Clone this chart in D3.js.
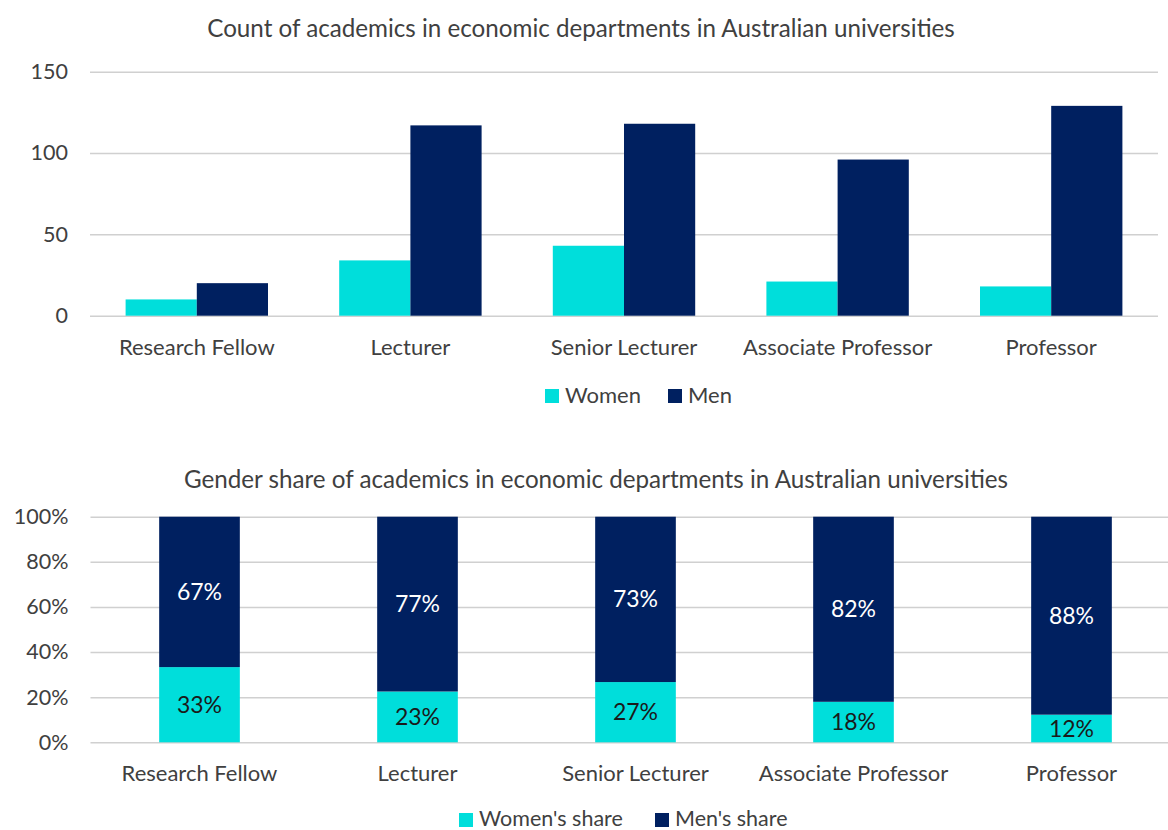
<!DOCTYPE html>
<html>
<head>
<meta charset="utf-8">
<script src="https://cdn.jsdelivr.net/npm/d3@7"></script>
<style>
  html, body { margin: 0; padding: 0; background: #fff; }
  svg { display: block; font-family: Lato, "Open Sans", sans-serif; }
</style>
</head>
<body>
<svg id="chart" width="1168" height="830"></svg>
<script>
const categories = ['Research Fellow', 'Lecturer', 'Senior Lecturer', 'Associate Professor', 'Professor'];
const women = [10, 34, 43, 21, 18];
const men = [20, 117, 118, 96, 129];
const countTicks = [0, 50, 100, 150];
const shareTicks = [0, 0.2, 0.4, 0.6, 0.8, 1];

const CYAN = '#00DEDB';
const NAVY = '#002060';
const GRID = '#D0D0D0';
const TEXT = '#404040';

const svg = d3.select('#chart');

// ---- top chart: counts ----
const countBox = { left: 90, right: 1158, y0: 315.7, y1: 71.7 };
const x1 = d3.scaleBand().domain(categories).range([countBox.left, countBox.right]).paddingInner(1 / 3).paddingOuter(1 / 6);
const xs = d3.scaleBand().domain(['women', 'men']).range([0, x1.bandwidth()]);
const y1 = d3.scaleLinear().domain([0, 150]).range([countBox.y0, countBox.y1]);

svg.append('text')
  .attr('x', 581).attr('y', 37)
  .attr('text-anchor', 'middle')
  .attr('fill', TEXT).attr('font-size', 24.2)
  .text('Count of academics in economic departments in Australian universities');

svg.append('g')
  .attr('transform', `translate(${countBox.left},0)`)
  .call(d3.axisLeft(y1).tickValues(countTicks).tickSize(-(countBox.right - countBox.left)).tickPadding(22))
  .call(a => a.select('.domain').remove())
  .call(a => a.selectAll('line').attr('stroke', GRID).attr('stroke-width', 1.5))
  .call(a => a.selectAll('text').attr('fill', TEXT).attr('font-size', 21.5).attr('font-family', 'Lato, sans-serif'));

const rows = categories.map((c, i) => ({ cat: c, women: women[i], men: men[i] }));
const grp = svg.append('g').selectAll('g').data(rows).join('g')
  .attr('transform', d => `translate(${x1(d.cat)},0)`);
[['women', CYAN], ['men', NAVY]].forEach(([k, col]) => {
  grp.append('rect')
    .attr('x', xs(k))
    .attr('width', xs.bandwidth())
    .attr('y', d => y1(d[k]))
    .attr('height', d => y1(0) - y1(d[k]))
    .attr('fill', col);
});

svg.append('g').selectAll('text').data(categories).join('text')
  .attr('x', d => x1(d) + x1.bandwidth() / 2)
  .attr('y', 355)
  .attr('text-anchor', 'middle')
  .attr('fill', TEXT).attr('font-size', 22)
  .text(d => d);

const leg1 = svg.append('g');
[['Women', CYAN, 545], ['Men', NAVY, 668]].forEach(([lab, col, lx]) => {
  leg1.append('rect').attr('x', lx).attr('y', 389).attr('width', 14).attr('height', 14).attr('fill', col);
  leg1.append('text').attr('x', lx + 20).attr('y', 403).attr('fill', TEXT).attr('font-size', 22).text(lab);
});

// ---- bottom chart: shares ----
const shareBox = { left: 90.5, right: 1180.5, y0: 742.3, y1: 516.7 };
const x2 = d3.scaleBand().domain(categories).range([shareBox.left, shareBox.right]).paddingInner(0.63).paddingOuter(0.315);
const y2 = d3.scaleLinear().domain([0, 1]).range([shareBox.y0, shareBox.y1]);

svg.append('text')
  .attr('x', 596).attr('y', 488)
  .attr('text-anchor', 'middle')
  .attr('fill', TEXT).attr('font-size', 24.2)
  .text('Gender share of academics in economic departments in Australian universities');

svg.append('g')
  .attr('transform', `translate(${shareBox.left},0)`)
  .call(d3.axisLeft(y2).tickValues(shareTicks).tickFormat(d3.format('.0%')).tickSize(-(shareBox.right - shareBox.left)).tickPadding(22))
  .call(a => a.select('.domain').remove())
  .call(a => a.selectAll('line').attr('stroke', GRID).attr('stroke-width', 1.5))
  .call(a => a.selectAll('text').attr('fill', TEXT).attr('font-size', 21.5).attr('font-family', 'Lato, sans-serif'));

const shares = categories.map((c, i) => {
  const tot = women[i] + men[i];
  return { cat: c, w: women[i] / tot, m: men[i] / tot };
});
const sg = svg.append('g').selectAll('g').data(shares).join('g')
  .attr('transform', d => `translate(${x2(d.cat)},0)`);
sg.append('rect')
  .attr('width', x2.bandwidth())
  .attr('y', d => y2(d.w))
  .attr('height', d => y2(0) - y2(d.w))
  .attr('fill', CYAN);
sg.append('rect')
  .attr('width', x2.bandwidth())
  .attr('y', y2(1))
  .attr('height', d => y2(d.w) - y2(1))
  .attr('fill', NAVY);
sg.append('text')
  .attr('x', x2.bandwidth() / 2)
  .attr('y', d => (y2(0) + y2(d.w)) / 2)
  .attr('dy', '0.35em')
  .attr('text-anchor', 'middle')
  .attr('fill', '#1a1a1a').attr('font-size', 23)
  .text(d => d3.format('.0%')(d.w));
sg.append('text')
  .attr('x', x2.bandwidth() / 2)
  .attr('y', d => (y2(d.w) + y2(1)) / 2)
  .attr('dy', '0.35em')
  .attr('text-anchor', 'middle')
  .attr('fill', '#ffffff').attr('font-size', 23)
  .text(d => d3.format('.0%')(d.m));

svg.append('g').selectAll('text').data(categories).join('text')
  .attr('x', d => x2(d) + x2.bandwidth() / 2)
  .attr('y', 781)
  .attr('text-anchor', 'middle')
  .attr('fill', TEXT).attr('font-size', 22)
  .text(d => d);

const leg2 = svg.append('g');
[["Women's share", CYAN, 459], ["Men's share", NAVY, 655]].forEach(([lab, col, lx]) => {
  leg2.append('rect').attr('x', lx).attr('y', 813).attr('width', 14).attr('height', 14).attr('fill', col);
  leg2.append('text').attr('x', lx + 20).attr('y', 826).attr('fill', TEXT).attr('font-size', 21.5).text(lab);
});
</script>
</body>
</html>
